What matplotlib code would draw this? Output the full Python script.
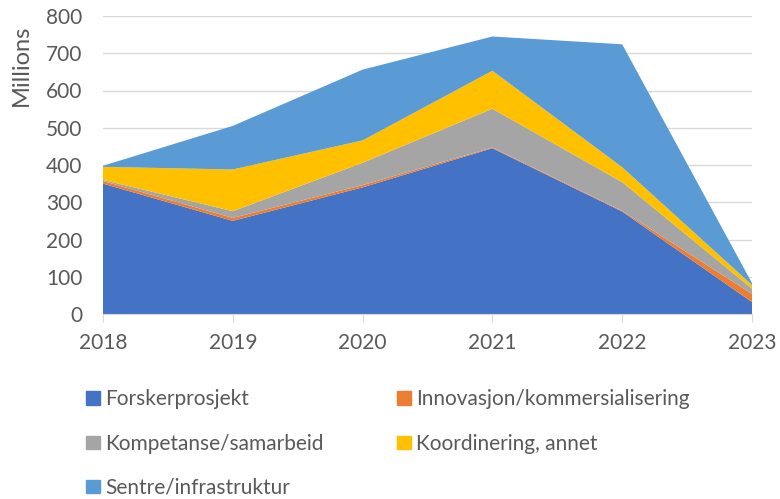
import numpy as np
import matplotlib.pyplot as plt
from matplotlib.patches import Patch

plt.rcParams['font.family'] = ['Lato', 'DejaVu Sans']

years = [2018, 2019, 2020, 2021, 2022, 2023]
forsker = [350, 250, 340, 445, 275, 32]
innovasjon = [7, 8, 6, 2, 2, 22]
kompetanse = [3, 18, 60, 104, 77, 14]
koordinering = [35, 112, 60, 102, 40, 10]
sentre = [3, 117, 190, 92, 330, 5]

labels = ['Forskerprosjekt', 'Innovasjon/kommersialisering', 'Kompetanse/samarbeid',
          'Koordinering, annet', 'Sentre/infrastruktur']
colors = ['#4472C4', '#ED7D31', '#A5A5A5', '#FFC000', '#5B9BD5']

fig = plt.figure(figsize=(7.8, 4.99), dpi=100)
ax = fig.add_axes([103 / 780, 1 - 314 / 499, (752 - 103) / 780, (314 - 16) / 499])

ax.stackplot(years, forsker, innovasjon, kompetanse, koordinering, sentre,
             colors=colors, labels=labels, linewidth=0, zorder=2)

ax.set_xlim(2018, 2023)
ax.set_ylim(0, 800)
ax.set_yticks(range(0, 801, 100))
ax.set_xticks(years)
ax.grid(axis='y', color='#D9D9D9', linewidth=1, zorder=0)
for s in ['left', 'right', 'top']:
    ax.spines[s].set_visible(False)
ax.spines['bottom'].set_color('#D9D9D9')
ax.spines['bottom'].set_zorder(3)
ax.tick_params(axis='y', length=0, labelsize=15, labelcolor='#595959', pad=15)
ax.tick_params(axis='x', length=6, color='#D9D9D9', labelsize=15, labelcolor='#595959', pad=8)

fig.text(21 / 780, 1 - 65 / 499, 'Millions', rotation=90, fontsize=17, color='#595959',
         ha='center', va='center')

handles = [Patch(color=c) for c in colors]
order = [0, 2, 4, 1, 3]
fig.legend([handles[i] for i in order], [labels[i] for i in order], ncol=2,
           loc='upper left', bbox_to_anchor=(76 / 780, 1 - 379 / 499),
           frameon=False, fontsize=15, labelcolor='#595959', borderpad=0,
           handlelength=0.67, handleheight=0.6, handletextpad=0.25,
           labelspacing=1.16, columnspacing=3.5)

fig.savefig('out.png', dpi=100)
